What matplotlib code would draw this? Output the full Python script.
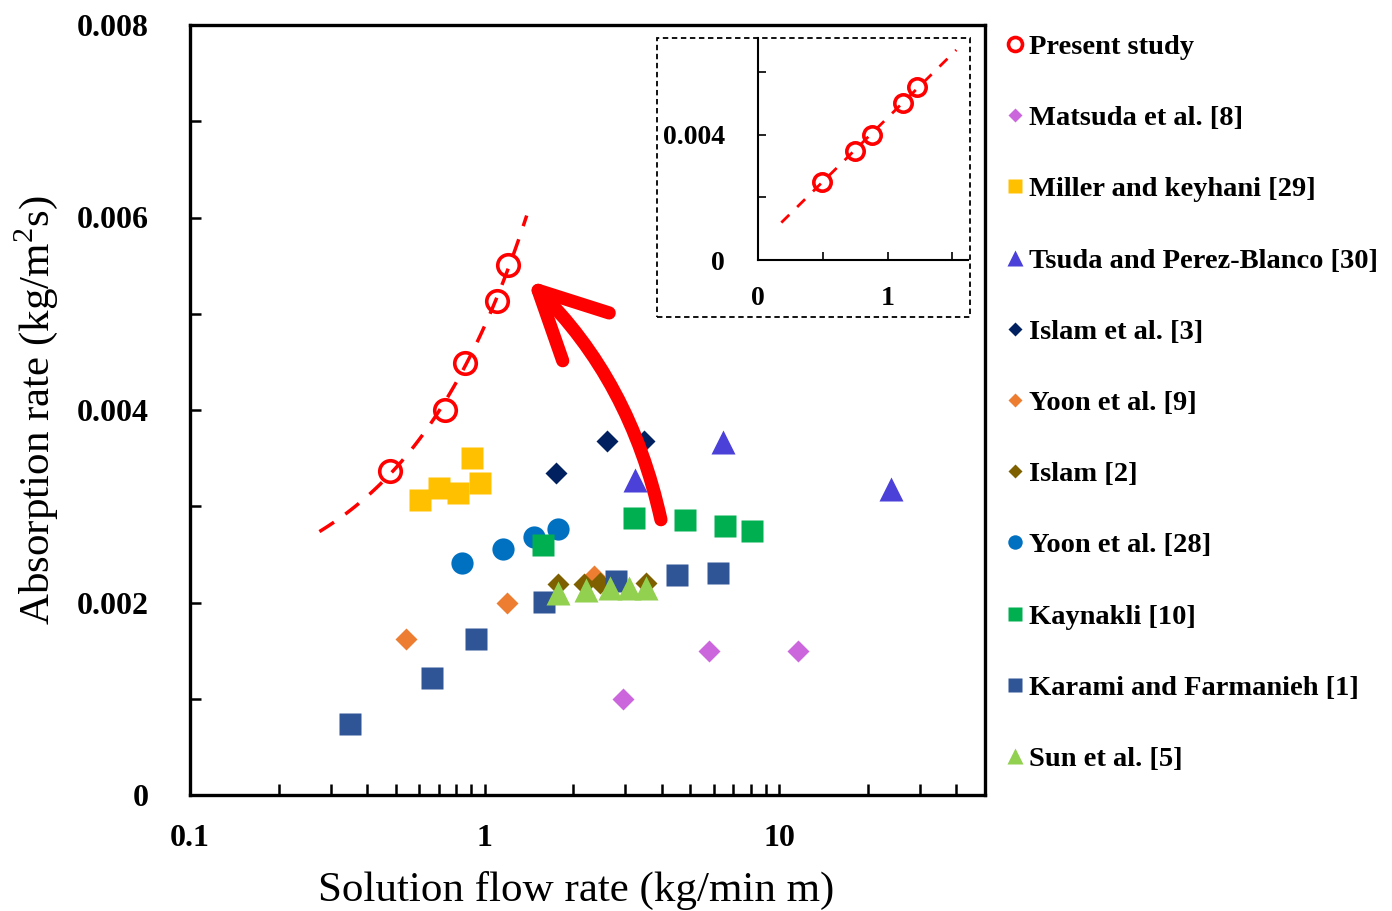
import numpy as np
import matplotlib
matplotlib.use('Agg')
import matplotlib.pyplot as plt
from matplotlib.patches import Rectangle
from matplotlib.ticker import MultipleLocator, LogLocator, NullFormatter, FuncFormatter, FixedLocator

plt.rcParams['font.family'] = ['Liberation Serif', 'DejaVu Serif']
plt.rcParams['mathtext.fontset'] = 'custom'
plt.rcParams['mathtext.rm'] = 'Liberation Serif'

# Present study (main plot)
present_x = [0.477, 0.733, 0.855, 1.099, 1.205]
present_y = [0.00337, 0.00400, 0.00449, 0.00513, 0.00551]
fit_range = [0.275, 1.39]

# Present study (inset, linear axes)
inset_x = [0.49, 0.746, 0.88, 1.116, 1.23]
inset_y = [0.0025, 0.0035, 0.0040, 0.00502, 0.00553]
inset_fit_range = [0.18, 1.53]

# literature data
matsuda_x = [2.95, 5.80, 11.6]
matsuda_y = [0.0010, 0.0015, 0.0015]
miller_x = [0.603, 0.699, 0.811, 0.904, 0.962]
miller_y = [0.00306, 0.00319, 0.00314, 0.00350, 0.00324]
tsuda_x = [3.23, 6.43, 23.9]
tsuda_y = [0.00327, 0.00367, 0.00318]
islam3_x = [1.75, 2.61, 3.49]
islam3_y = [0.00335, 0.00368, 0.00368]
yoon9_x = [0.54, 1.19, 2.36]
yoon9_y = [0.00162, 0.00200, 0.00228]
islam2_x = [1.77, 2.18, 2.46, 3.53]
islam2_y = [0.00219, 0.00219, 0.00220, 0.00220]
yoon28_x = [0.838, 1.153, 1.47, 1.78]
yoon28_y = [0.00241, 0.00256, 0.00268, 0.00276]
kaynakli_x = [1.58, 3.21, 4.80, 6.56, 8.11]
kaynakli_y = [0.00260, 0.00288, 0.00286, 0.00280, 0.00274]
karami_x = [0.349, 0.661, 0.937, 1.59, 2.79, 4.50, 6.21]
karami_y = [0.00074, 0.00122, 0.00162, 0.00201, 0.00222, 0.00229, 0.00231]
sun_x = [1.77, 2.21, 2.66, 3.10, 3.53]
sun_y = [0.00210, 0.00213, 0.00215, 0.00215, 0.00215]

arrow_tail = (3.97, 0.00286)
arrow_tip = (1.40, 0.00535)

fig = plt.figure(figsize=(13.92, 9.11), dpi=100)
ax = fig.add_axes([190/1392, 1 - 795/911, 795/1392, 770/911])

# fitted line through present study points
a, b = np.polyfit(present_x, present_y, 1)
xf = np.geomspace(fit_range[0], fit_range[1], 80)
ax.plot(xf, a * xf + b, '--', color='red', lw=2.5, dashes=(5, 4))

ax.plot(present_x, present_y, 'o', ms=15.5, mfc='none', mec='red', mew=2.6,
        ls='none', label='Present study')

series = [
    (matsuda_x, matsuda_y, 'D', '#CC66DD', 11.5, 'Matsuda et al. [8]'),
    (miller_x, miller_y, 's', '#FFC000', 16, 'Miller and keyhani [29]'),
    (tsuda_x, tsuda_y, '^', '#4B40D8', 17, 'Tsuda and Perez-Blanco [30]'),
    (islam3_x, islam3_y, 'D', '#002060', 11.5, 'Islam et al. [3]'),
    (yoon9_x, yoon9_y, 'D', '#ED7D31', 11.5, 'Yoon et al. [9]'),
    (islam2_x, islam2_y, 'D', '#7F6000', 11.5, 'Islam [2]'),
    (yoon28_x, yoon28_y, 'o', '#0070C0', 16, 'Yoon et al. [28]'),
    (kaynakli_x, kaynakli_y, 's', '#00B050', 16, 'Kaynakli [10]'),
    (karami_x, karami_y, 's', '#2F5597', 16, 'Karami and Farmanieh [1]'),
    (sun_x, sun_y, '^', '#92D050', 17, 'Sun et al. [5]'),
]
for xs, ys, m, c, s, lab in series:
    ax.plot(xs, ys, m, color=c, ms=s, mec='none', ls='none', label=lab)

ax.annotate('', xy=arrow_tip, xytext=arrow_tail,
            arrowprops=dict(arrowstyle='->,head_length=2.4,head_width=1.2',
                            color='red', lw=9.5, mutation_scale=20,
                            shrinkA=0, shrinkB=0, capstyle='round',
                            connectionstyle='arc3,rad=0.15'))

ax.set_xscale('log')
ax.set_xlim(0.1, 50)
ax.set_ylim(0, 0.008)
ax.xaxis.set_major_locator(FixedLocator([0.1, 1, 10]))
ax.xaxis.set_minor_locator(LogLocator(base=10, subs=np.arange(2, 10)))
ax.xaxis.set_minor_formatter(NullFormatter())
ax.xaxis.set_major_formatter(FuncFormatter(lambda v, p: f'{v:g}'))
ax.yaxis.set_major_locator(MultipleLocator(0.002))
ax.yaxis.set_minor_locator(MultipleLocator(0.001))
ax.yaxis.set_major_formatter(FuncFormatter(lambda v, p: '0' if v == 0 else f'{v:.3f}'))
ax.tick_params(which='both', direction='in', top=False, right=False, width=1.8, length=8)
ax.tick_params(axis='x', pad=21, labelsize=23)
ax.tick_params(axis='y', pad=30, labelsize=23)
for lbl in ax.get_xticklabels() + ax.get_yticklabels():
    lbl.set_fontweight('bold')
for sp in ax.spines.values():
    sp.set_linewidth(2.4)

ax.set_xlabel('Solution flow rate (kg/min m)', fontsize=31)
ax.xaxis.set_label_coords(0.4855, -0.099)
ax.set_ylabel('Absorption rate (kg/m$^2$s)', fontsize=31, labelpad=12)

# legend
leg = fig.legend(loc='upper left', bbox_to_anchor=(1006/1392, 1 - 34/911),
                 frameon=False, markerscale=0.65, handlelength=0.6,
                 handletextpad=0.2, labelspacing=1.59, borderpad=0, borderaxespad=0,
                 prop={'weight': 'bold', 'size': 20.5})

# inset
fig.add_artist(Rectangle((657/1392, 1 - 317/911), 313/1392, 279/911,
                         transform=fig.transFigure, fill=False, ls=(0, (3, 2)),
                         lw=1.3, ec='black'))
axi = fig.add_axes([758/1392, 1 - 260/911, 210/1392, 222/911])
ai, bi = np.polyfit(inset_x, inset_y, 1)
xi = np.linspace(inset_fit_range[0], inset_fit_range[1], 50)
axi.plot(xi, ai * xi + bi, '--', color='red', lw=2, dashes=(4, 4))
axi.plot(inset_x, inset_y, 'o', ms=12.5, mfc='none', mec='red', mew=2.6, ls='none')
axi.set_xlim(0, 1.62)
axi.set_ylim(0, 0.0071)
axi.spines['top'].set_visible(False)
axi.spines['right'].set_visible(False)
for sp in ('left', 'bottom'):
    axi.spines[sp].set_linewidth(1.5)
axi.xaxis.set_major_locator(FixedLocator([0, 1]))
axi.xaxis.set_minor_locator(FixedLocator([0.5, 1.5]))
axi.yaxis.set_major_locator(FixedLocator([0, 0.004]))
axi.yaxis.set_minor_locator(FixedLocator([0.002, 0.006]))
axi.xaxis.set_major_formatter(FuncFormatter(lambda v, p: f'{v:g}'))
axi.yaxis.set_major_formatter(FuncFormatter(lambda v, p: '0' if v == 0 else f'{v:.3f}'))
axi.tick_params(which='both', direction='in', length=6, width=1.2)
axi.tick_params(axis='x', pad=19, labelsize=20)
axi.tick_params(axis='y', pad=24, labelsize=20)
for lbl in axi.get_xticklabels() + axi.get_yticklabels():
    lbl.set_fontweight('bold')

fig.savefig('out.png', dpi=100)
